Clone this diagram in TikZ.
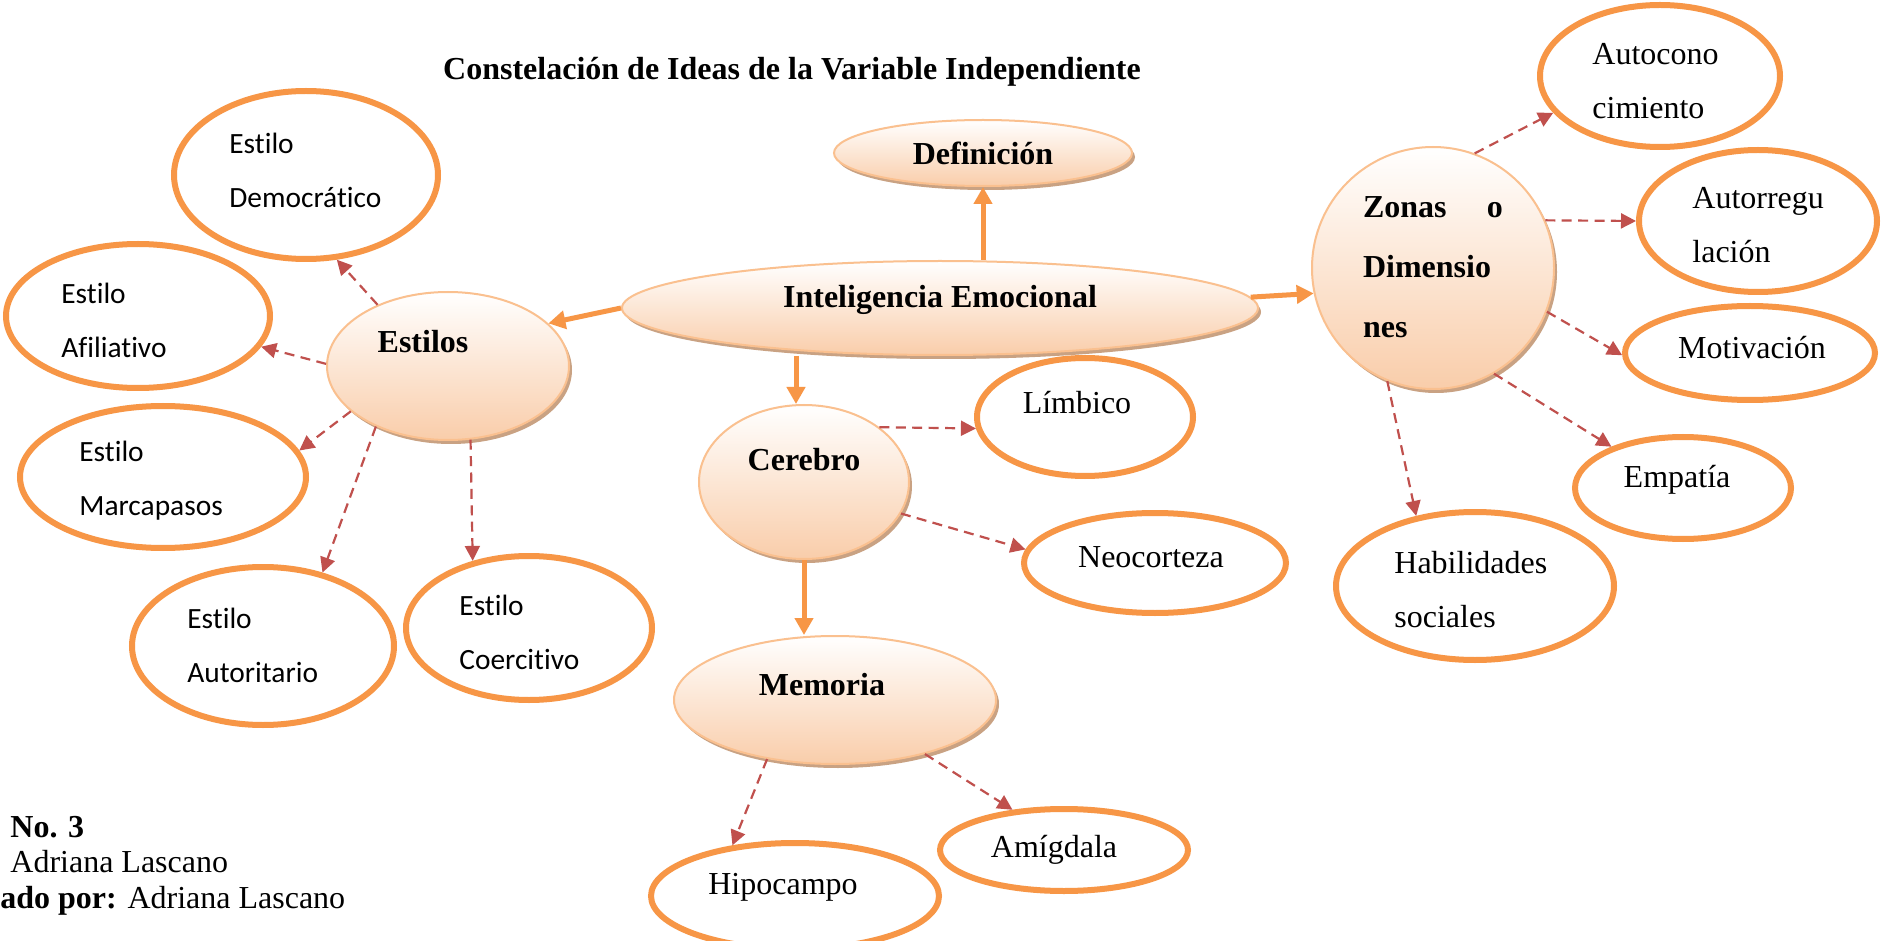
\documentclass[tikz,border=0pt]{standalone}
\usepackage{fontspec}
\setmainfont{Liberation Serif}
\newfontfamily\calfont[Ligatures={NoCommon}]{Carlito}
\usetikzlibrary{shapes.geometric,arrows.meta,shadows}
\definecolor{orng}{HTML}{F79646}
\definecolor{dred}{HTML}{C0504D}
\definecolor{peach}{HTML}{F9CDAA}
\definecolor{pborder}{HTML}{FAC08F}
\definecolor{ptan}{HTML}{C9A283}
\tikzset{
  hub/.style={ellipse, inner sep=0pt, draw=pborder, line width=1pt, top color=white, bottom color=peach,
    general shadow={fill=ptan, shadow xshift=1.5pt, shadow yshift=-2pt}},
  leaf/.style={ellipse, inner sep=0pt, draw=orng, line width=3pt, fill=white},
  tx/.style={inner sep=0pt, font=\fontsize{16}{27}\selectfont},
  tb/.style={inner sep=0pt, font=\bfseries\fontsize{16}{30}\selectfont},
  tc/.style={inner sep=0pt, align=left, anchor=west, font=\calfont\fontsize{14.7}{27}\selectfont},
  sarr/.style={draw=orng, line width=2.5pt, -{Triangle[width=9pt,length=8.5pt]}},
  darr/.style={draw=dred, line width=1.1pt, dash pattern=on 5pt off 3.2pt, -{Triangle[width=7.5pt,length=7.5pt]}}
}
\begin{document}
\begin{tikzpicture}[x=0.5pt,y=-0.5pt]
\fill[white] (0,0) rectangle (1881,941);
% title
\node[tb] (title) at (792,72) {Constelación de Ideas de la Variable Independiente};
% central shaded nodes
\node[hub, minimum width=149pt, minimum height=33pt] (def) at (983,153) {};
\node[hub, minimum width=318pt, minimum height=47pt] (ie) at (940,308) {};
\node[hub, minimum width=121pt, minimum height=74pt] (estilos) at (448,366) {};
\node[hub, minimum width=105pt, minimum height=77pt] (cerebro) at (804,482) {};
\node[hub, minimum width=161pt, minimum height=64pt] (memoria) at (835,700) {};
\node[hub, minimum width=121pt, minimum height=121pt] (zonas) at (1433,268) {};
\node[tb] (tdef) at (983,153) {Definición};
\node[tb] (tie) at (940,300) {Inteligencia Emocional};
\node[tb] (test) at (423,342) {Estilos};
\node[tb] (tcer) at (804,460) {Cerebro};
\node[tb] (tmem) at (822,685) {Memoria};
\node[tb, text width=70pt, align=left] (tzon) at (1433,267) {\hbox to 70pt{Zonas\hfill o}\\Dimensio\\nes};
% outline leaves
\node[leaf, minimum width=132pt, minimum height=84pt] (democ) at (306,175) {};
\node[leaf, minimum width=132pt, minimum height=72pt] (afil) at (138,316) {};
\node[leaf, minimum width=143pt, minimum height=71pt] (marca) at (163,477) {};
\node[leaf, minimum width=131pt, minimum height=79pt] (autor) at (263,646) {};
\node[leaf, minimum width=123pt, minimum height=72pt] (coerc) at (529,628) {};
\node[leaf, minimum width=108pt, minimum height=59pt] (limb) at (1085,417) {};
\node[leaf, minimum width=131pt, minimum height=50pt] (neo) at (1155,563) {};
\node[leaf, minimum width=144pt, minimum height=53pt] (hipo) at (795,896) {};
\node[leaf, minimum width=124pt, minimum height=41pt] (amig) at (1064,850) {};
\node[leaf, minimum width=120pt, minimum height=71pt] (autoc) at (1660,76) {};
\node[leaf, minimum width=119pt, minimum height=71pt] (autorr) at (1758,221) {};
\node[leaf, minimum width=125pt, minimum height=47pt] (motiv) at (1750,353) {};
\node[leaf, minimum width=108pt, minimum height=51pt] (empat) at (1683,488) {};
\node[leaf, minimum width=139pt, minimum height=74pt] (habil) at (1475,586) {};
% leaf texts
\node[tc] (tdemoc) at (229,170) {Estilo\\Democrático};
\node[tc] (tafil) at (61,320) {Estilo\\Afiliativo};
\node[tc] (tmarca) at (79,481) {Estilo\\Marcapasos};
\node[tc] (tautor) at (187,645) {Estilo\\Autoritario};
\node[tc] (tcoerc) at (459,632) {Estilo\\Coercitivo};
\node[tx] (tlimb) at (1077,403) {Límbico};
\node[tx] (tneo) at (1151,557) {Neocorteza};
\node[tx] (thipo) at (783,887) {Hipocampo};
\node[tx] (tamig) at (1054,850) {Amígdala};
\node[tx] (tmotiv) at (1752,348) {Motivación};
\node[tx] (tempat) at (1677,480) {Empatía};
\node[tx, align=left, anchor=west] (tautoc) at (1592,81) {Autocono\\cimiento};
\node[tx, align=left, anchor=west] (tautorr) at (1692,225) {Autorregu\\lación};
\node[tx, align=left, anchor=west] (thabil) at (1394,590) {Habilidades\\sociales};
% solid arrows
\draw[sarr] (ie.north -| def.south) -- (def.south);
\draw[sarr] (ie.west) -- (estilos.23);
\draw[sarr] (ie.2) -- (zonas.192);
\draw[sarr] ([xshift=-4pt]ie.south -| cerebro.north) -- ([xshift=-4pt]cerebro.north);
\draw[sarr] (cerebro.south) -- (cerebro.south |- memoria.north);
% dashed arrows
\draw[darr] (estilos.139) -- (democ.290);
\draw[darr] (estilos.179) -- (afil.346);
\draw[darr] (estilos.205) -- (marca.11);
\draw[darr] (estilos.220) -- (autor.51);
\draw[darr] (estilos.287) -- (coerc.130);
\draw[darr] (cerebro.36) -- (limb.186);
\draw[darr] (cerebro.342) -- (neo.174);
\draw[darr] (memoria.221) -- (hipo.141);
\draw[darr] (memoria.329) -- (amig.142);
\draw[darr] (zonas.70) -- (autoc.199);
\draw[darr] (zonas.23) -- (autorr.180);
\draw[darr] (zonas.339) -- (motiv.181);
\draw[darr] (zonas.300) -- (empat.150);
\draw[darr] (zonas.248) -- (habil.130);
% caption fragments
\node[tb, anchor=base west] (cap1) at (10,837) {No. 3};
\node[tx, anchor=base west] (cap2) at (10,872) {Adriana Lascano};
\node[tx, anchor=base west] (cap3) at (0,908) {\textbf{ado por:} Adriana Lascano};
\pgfresetboundingbox
\useasboundingbox (0,0) rectangle (1881,941);
\end{tikzpicture}
\end{document}
